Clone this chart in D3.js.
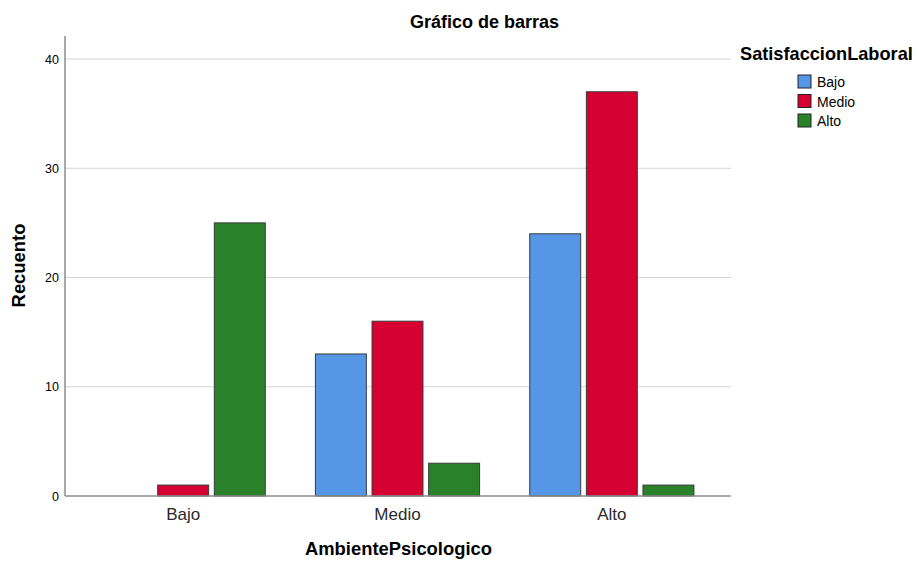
<!DOCTYPE html>
<html>
<head>
<meta charset="utf-8">
<script src="https://cdn.jsdelivr.net/npm/d3@7"></script>
<style>
  body { margin: 0; background: #fff; }
  svg text { font-family: "Liberation Sans", Arial, sans-serif; fill: #000; }
</style>
</head>
<body>
<script>
// categories and series
var ambiente = ["Bajo", "Medio", "Alto"];
var satisfaccion = ["Bajo", "Medio", "Alto"];
var colores = ["#5596e6", "#d60032", "#29822a"];

// counts per AmbientePsicologico group, one array per SatisfaccionLaboral level
var bajoValues = [0, 13, 24];
var medioValues = [1, 16, 37];
var altoValues = [25, 3, 1];
var yTicks = [0, 10, 20, 30, 40];

var width = 919, height = 562;
var plot = { left: 65, right: 731, top: 36, bottom: 496 };

var svg = d3.select("body").append("svg")
    .attr("width", width)
    .attr("height", height);

var series = [bajoValues, medioValues, altoValues];
var rows = [];
ambiente.forEach(function (a, i) {
    satisfaccion.forEach(function (s, j) {
        rows.push({ group: a, key: s, value: series[j][i], color: colores[j] });
    });
});

var x0 = d3.scaleBand()
    .domain(ambiente)
    .range([76, 719])
    .paddingInner(0.234)
    .paddingOuter(0.117);

var x1 = d3.scaleBand()
    .domain(satisfaccion)
    .range([0, x0.bandwidth()])
    .paddingInner(0.1);

var y = d3.scaleLinear()
    .domain([0, 40])
    .range([plot.bottom, plot.bottom - 437]);

// gridlines
svg.append("g")
    .selectAll("line")
    .data(yTicks.filter(function (d) { return d > 0; }))
    .enter().append("line")
    .attr("x1", plot.left)
    .attr("x2", plot.right)
    .attr("y1", function (d) { return y(d); })
    .attr("y2", function (d) { return y(d); })
    .attr("stroke", "#d4d4d4")
    .attr("stroke-width", 1.2);

// bars
svg.append("g")
    .selectAll("rect")
    .data(rows.filter(function (d) { return d.value > 0; }))
    .enter().append("rect")
    .attr("x", function (d) { return x0(d.group) + x1(d.key); })
    .attr("y", function (d) { return y(d.value); })
    .attr("width", x1.bandwidth())
    .attr("height", function (d) { return y(0) - y(d.value); })
    .attr("fill", function (d) { return d.color; })
    .attr("stroke", "#3a3a3a")
    .attr("stroke-width", 1);

// axes lines
svg.append("line")
    .attr("x1", plot.left).attr("x2", plot.left)
    .attr("y1", plot.top).attr("y2", plot.bottom)
    .attr("stroke", "#8c8c8c").attr("stroke-width", 1.5);
svg.append("line")
    .attr("x1", plot.left).attr("x2", plot.right)
    .attr("y1", plot.bottom).attr("y2", plot.bottom)
    .attr("stroke", "#8c8c8c").attr("stroke-width", 1.5);

// y tick labels
svg.append("g")
    .selectAll("text")
    .data(yTicks)
    .enter().append("text")
    .attr("x", 59)
    .attr("y", function (d) { return y(d) + 4.5; })
    .attr("text-anchor", "end")
    .style("font-size", "12.5px")
    .text(function (d) { return d; });

// x tick labels
svg.append("g")
    .selectAll("text")
    .data(ambiente)
    .enter().append("text")
    .attr("x", function (d) { return x0(d) + x0.bandwidth() / 2; })
    .attr("y", 520)
    .attr("text-anchor", "middle")
    .style("font-size", "17px")
    .style("fill", "#2a2a2a")
    .text(function (d) { return d; });

// titles
svg.append("text")
    .attr("x", 484.5).attr("y", 28)
    .attr("text-anchor", "middle")
    .style("font-size", "18px").style("font-weight", "bold")
    .text("Gráfico de barras");

svg.append("text")
    .attr("x", 398.5).attr("y", 555)
    .attr("text-anchor", "middle")
    .style("font-size", "18.4px").style("font-weight", "bold")
    .text("AmbientePsicologico");

svg.append("text")
    .attr("transform", "translate(25,265.5) rotate(-90)")
    .attr("text-anchor", "middle")
    .style("font-size", "18.4px").style("font-weight", "bold")
    .text("Recuento");

// legend
var legend = svg.append("g");
legend.append("text")
    .attr("x", 740).attr("y", 60)
    .style("font-size", "18.2px").style("font-weight", "bold")
    .text("SatisfaccionLaboral");

var items = legend.selectAll("g.item")
    .data(satisfaccion)
    .enter().append("g")
    .attr("class", "item")
    .attr("transform", function (d, i) { return "translate(798," + (75 + i * 19.5) + ")"; });

items.append("rect")
    .attr("width", 13).attr("height", 13)
    .attr("fill", function (d, i) { return colores[i]; })
    .attr("stroke", "#222").attr("stroke-width", 1);

items.append("text")
    .attr("x", 19).attr("y", 12)
    .style("font-size", "14px")
    .text(function (d) { return d; });
</script>
</body>
</html>
